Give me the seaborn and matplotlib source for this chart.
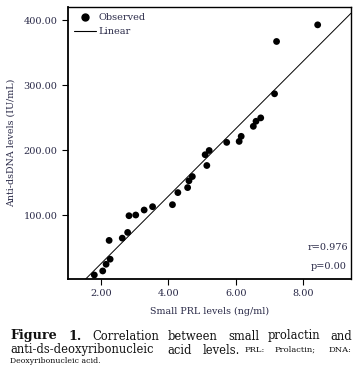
import matplotlib
matplotlib.use("Agg")
import matplotlib.pyplot as plt
from matplotlib.lines import Line2D
import seaborn as sns
import pandas as pd

# Small PRL (ng/ml) vs anti-dsDNA (IU/mL)
prl = [1.80, 2.05, 2.15, 2.27, 2.24, 2.63, 2.79, 2.83, 3.03, 3.28, 3.53, 4.12,
       4.28, 4.57, 4.61, 4.71, 5.09, 5.14, 5.21, 5.73, 6.10, 6.16, 6.52, 6.60,
       6.74, 7.15, 7.21, 8.43]
dsdna = [7.7, 13.9, 24.2, 32.0, 60.9, 64.4, 73.2, 98.9, 100.0, 107.7, 112.8, 115.9,
         134.5, 142.2, 152.6, 159.2, 192.8, 176.2, 199.3, 211.8, 213.3, 221.1, 236.5, 244.3,
         249.5, 286.6, 367.1, 392.7]
x_ticks = [2, 4, 6, 8]
y_ticks = [100, 200, 300, 400]
r_text = "r=0.976"
p_text = "p=0.00"

df = pd.DataFrame({"prl": prl, "dsdna": dsdna})

sns.set_style("ticks")
plt.rcParams["font.family"] = ["DejaVu Serif"]
txt = "#2a2a48"

fig = plt.figure(figsize=(3.58, 3.74), dpi=100)
ax = fig.add_axes([0.19, 0.254, 0.7905, 0.727])
ax.set_xlim(1.02, 9.42)
ax.set_ylim(1.5, 420)

# scatter + least-squares line extended to the axes edges
sns.regplot(data=df, x="prl", y="dsdna", ax=ax, ci=None, truncate=False,
            scatter_kws=dict(s=24, color="black", edgecolor="none", alpha=1, zorder=3),
            line_kws=dict(color="black", lw=0.7))
ax.set_xlim(1.02, 9.42)
ax.set_ylim(1.5, 420)

ax.set_xticks(x_ticks)
ax.set_xticklabels([f"{v:.2f}" for v in x_ticks])
ax.set_yticks(y_ticks)
ax.set_yticklabels([f"{v:.2f}" for v in y_ticks])
ax.tick_params(labelsize=7, colors="black", labelcolor=txt, length=4, width=0.8)
for s in ax.spines.values():
    s.set_visible(True)
    s.set_linewidth(1.0)
    s.set_color("black")
ax.spines["left"].set_linewidth(1.3)
ax.spines["bottom"].set_linewidth(1.3)

ax.set_xlabel("Small PRL levels (ng/ml)", fontsize=6.8, color=txt, labelpad=6)
ax.set_ylabel("Anti-dsDNA levels (IU/mL)", fontsize=6.8, color=txt, labelpad=6)

handles = [Line2D([], [], marker="o", ls="none", color="black", markersize=5),
           Line2D([], [], color="black", lw=0.8)]
ax.legend(handles, ["Observed", "Linear"], loc="upper left", frameon=False,
          fontsize=7, handlelength=2.2, handletextpad=0.3, labelspacing=0.5,
          borderaxespad=0.25, labelcolor=txt)

ax.text(0.99, 0.115, r_text, transform=ax.transAxes, ha="right", va="center",
        fontsize=7, color=txt)
ax.text(0.985, 0.045, p_text, transform=ax.transAxes, ha="right", va="center",
        fontsize=7, color=txt)

# caption, justified by hand
def W(x, y, s, size=8.3, bold=False, ha="left"):
    fig.text(x / 358, 1 - y / 374, s, fontsize=size, ha=ha, va="center",
             color="#111111", fontweight="bold" if bold else "normal")

W(10, 336, "Figure", 9.2, True)
W(68, 336, "1.", 9.2, True)
for x, w in [(92, "Correlation"), (168, "between"), (228, "small"), (268, "prolactin")]:
    W(x, 336, w)
W(352, 336, "and", ha="right")
for x, w in [(10, "anti-ds-deoxyribonucleic"), (167, "acid"), (203, "levels.")]:
    W(x, 350, w)
W(245, 350, "PRL:", 6.0)
W(275, 350, "Prolactin;", 6.0)
W(352, 350, "DNA:", 6.0, ha="right")
W(10, 361, "Deoxyribonucleic acid.", 5.6)

fig.savefig("out.png", dpi=100)
